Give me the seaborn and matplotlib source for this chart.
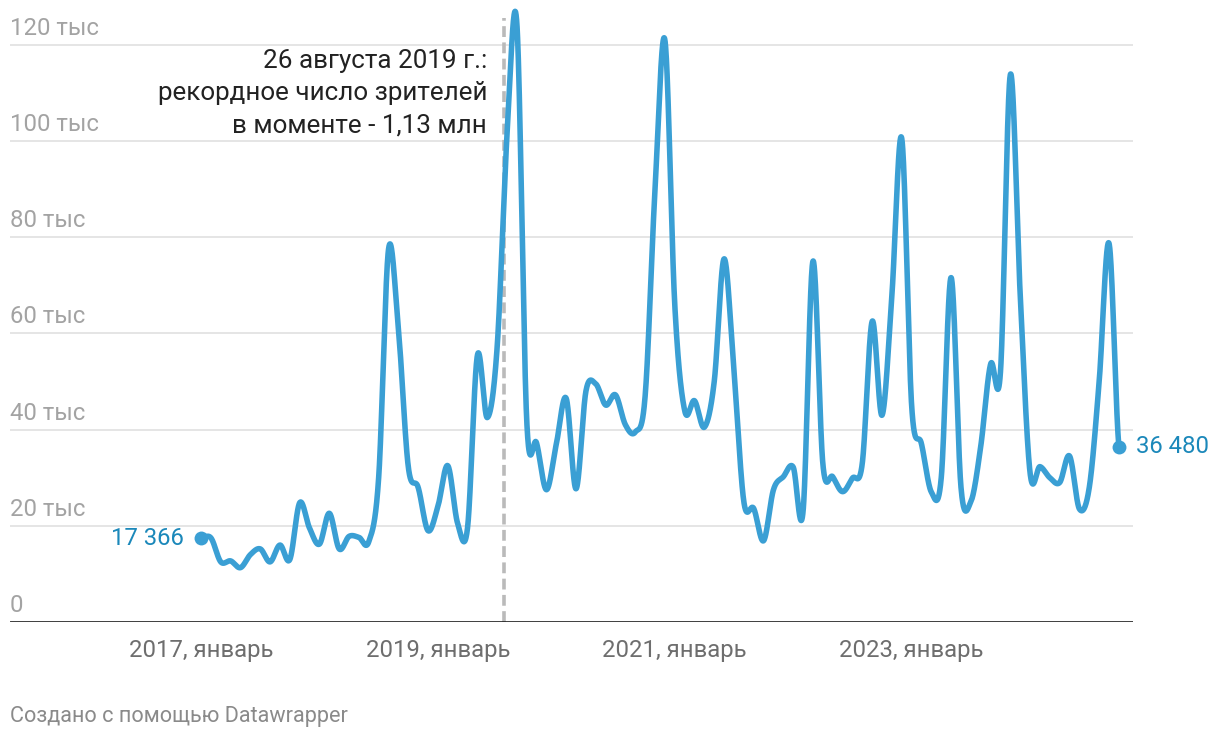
import numpy as np
import pandas as pd
import matplotlib
matplotlib.use("Agg")
import matplotlib.pyplot as plt
import matplotlib.transforms as mtransforms
import seaborn as sns

# ---------------- data ----------------
months = [p.strftime("%Y-%m") for p in pd.period_range("2017-01", "2024-10", freq="M")]
viewers_k = [
    17.366, 17.5, 12.5, 12.7, 11.3, 14.0, 15.2, 12.5, 16.0, 13.0,   # 2017-01..10
    24.8, 19.5, 16.2, 22.6, 15.2, 17.8, 17.6, 16.7, 30.0, 77.5,    # ..2018-08
    61.0, 32.3, 28.0, 19.0, 24.0, 32.5, 20.5, 19.5, 55.4, 42.5,    # ..2019-06
    57.0, 101.0, 124.5, 42.0, 37.2, 27.5, 37.0, 46.5, 27.7, 48.0,  # ..2020-04
    49.5, 45.1, 47.2, 41.0, 39.5, 47.0, 90.0, 121.0, 66.0, 44.0,   # ..2021-02
    46.0, 40.5, 50.0, 75.5, 52.0, 25.0, 23.6, 16.9, 27.5, 30.2,    # ..2021-12
    32.2, 23.0, 75.0, 33.0, 30.2, 27.1, 29.9, 33.0, 62.5, 43.0,    # ..2022-10
    68.0, 100.5, 45.0, 37.0, 27.0, 30.0, 71.6, 28.0, 25.0, 36.5,   # ..2023-08
    53.6, 52.0, 113.8, 68.0, 31.0, 32.3, 30.0, 29.0, 34.5, 23.5,   # ..2024-06
    28.0, 50.0, 78.7, 36.48,                                      # ..2024-10
]
y_ticks = [0, 20, 40, 60, 80, 100, 120]
y_tick_labels = ["0", "20 тыс", "40 тыс", "60 тыс", "80 тыс", "100 тыс", "120 тыс"]
x_tick_months = ["2017-01", "2019-01", "2021-01", "2023-01"]
x_tick_labels = ["2017, январь", "2019, январь", "2021, январь", "2023, январь"]
first_label = "17 366"
last_label = "36 480"
annotation_lines = ["26 августа 2019 г.:", "рекордное число зрителей", "в моменте - 1,13 млн"]
footer = "Создано с помощью Datawrapper"

# ---------------- helpers ----------------
def month_index(ym):
    y, m = map(int, ym.split("-"))
    return (y - 2017) * 12 + (m - 1)

x_raw = np.array([month_index(m) for m in months], dtype=float)
y_raw = np.array(viewers_k, dtype=float)

def catmull_rom(xs, ys, n=40):
    """Uniform Catmull-Rom rendering of the series (curved line, as in the original)."""
    N = len(ys)
    tang = np.empty(N)
    tang[1:-1] = (ys[2:] - ys[:-2]) / 2.0
    tang[0] = (ys[1] - ys[0]) / 2.0
    tang[-1] = (ys[-1] - ys[-2]) / 2.0
    out_x, out_y = [], []
    s = np.linspace(0, 1, n, endpoint=False)
    for i in range(N - 1):
        h00 = 2 * s**3 - 3 * s**2 + 1
        h10 = s**3 - 2 * s**2 + s
        h01 = -2 * s**3 + 3 * s**2
        h11 = s**3 - s**2
        dx = xs[i + 1] - xs[i]
        out_x.append(xs[i] + s * dx)
        out_y.append(h00 * ys[i] + h10 * tang[i] * dx + h01 * ys[i + 1] + h11 * tang[i + 1] * dx)
    out_x.append([xs[-1]])
    out_y.append([ys[-1]])
    return np.concatenate(out_x), np.concatenate(out_y)

cx, cy = catmull_rom(x_raw, y_raw)
curve = pd.DataFrame({"m": cx, "v": cy})
ends = pd.DataFrame({"m": [x_raw[0], x_raw[-1]], "v": [y_raw[0], y_raw[-1]]})

# ---------------- style ----------------
sns.set_theme(style="white")
plt.rcParams["font.family"] = ["Roboto", "DejaVu Sans"]

W, H = 1220, 738
fig = plt.figure(figsize=(W / 100, H / 100), dpi=100)
ax = fig.add_axes([10 / W, (H - 622) / H, 1123 / W, 622 / H])

px_per_month = 9.87
x0_px = 201
ax.set_xlim((10 - x0_px) / px_per_month, (1133 - x0_px) / px_per_month)
ax.set_ylim(0, 622 / 4.81)

LINE = "#3a9fd4"
LABEL = "#1b88ba"

for v in y_ticks[1:]:
    ax.axhline(v, color="#e3e3e3", lw=1.3, zorder=1)
ax.axhline(0, color="#1a1a1a", lw=1.9, zorder=3)

# dashed record marker
rec_x = (503.5 - x0_px) / px_per_month
ax.plot([rec_x, rec_x], [0, (622 - 18) / 4.81], color="#bababa", lw=2.6,
        dashes=(3.0, 1.5), zorder=2, clip_on=False)

sns.lineplot(data=curve, x="m", y="v", color=LINE, lw=4.0, estimator=None,
             sort=False, ax=ax, zorder=4)
ax.lines[-1].set_clip_on(False)
ax.lines[-1].set_solid_capstyle("round")
ax.lines[-1].set_solid_joinstyle("round")
sns.scatterplot(data=ends, x="m", y="v", color=LINE, s=100, linewidth=0,
                ax=ax, zorder=5, clip_on=False, legend=False)

ax.set_xlabel("")
ax.set_ylabel("")
for sp in ax.spines.values():
    sp.set_visible(False)

# x ticks
ax.set_xticks([month_index(m) for m in x_tick_months])
ax.set_xticklabels(x_tick_labels, fontsize=17.2, color="#6e6e6e")
ax.tick_params(axis="x", length=0, pad=12)
ax.set_yticks([])

# y labels (inside, above gridlines)
trans = mtransforms.blended_transform_factory(ax.transAxes, ax.transData)
for v, lab in zip(y_ticks, y_tick_labels):
    ax.text(0, v + 10 / 4.81, lab, transform=trans, ha="left", va="baseline",
            fontsize=17.2, color="#a3a3a3")

# end labels
ax.annotate(first_label, (x_raw[0], y_raw[0]), xytext=(-12.5, 0), textcoords="offset points",
            ha="right", va="center", fontsize=17.2, color=LABEL)
ax.annotate(last_label, (x_raw[-1], y_raw[-1]), xytext=(12.5, 0), textcoords="offset points",
            ha="left", va="center", fontsize=17.2, color=LABEL)

# annotation
ann_x = (487 - x0_px) / px_per_month
for base_px, line in zip([68, 100, 132], annotation_lines):
    ax.text(ann_x, (622 - base_px) / 4.81, line, ha="right", va="baseline",
            fontsize=18.7, color="#222222")

fig.text(10 / W, (H - 722) / H, footer, ha="left", va="baseline",
         fontsize=15.6, color="#8a8a8a")

fig.savefig("out.png", dpi=100)
